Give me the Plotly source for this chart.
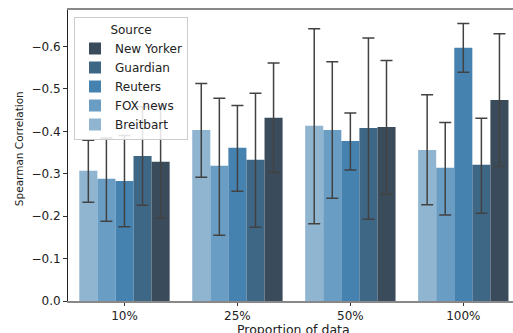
import plotly.graph_objects as go

categories = ["10%", "25%", "50%", "100%"]
sources = ["Breitbart", "FOX news", "Reuters", "Guardian", "New Yorker"]
colors = ["#8fb5d1", "#6a9dc3", "#4682b0", "#3e6786", "#3a4c5b"]

# mean Spearman correlation per source (rows) and data proportion (columns)
values = {
    "Breitbart":  [-0.307, -0.403, -0.413, -0.356],
    "FOX news":   [-0.288, -0.319, -0.403, -0.314],
    "Reuters":    [-0.283, -0.361, -0.377, -0.597],
    "Guardian":   [-0.342, -0.333, -0.408, -0.321],
    "New Yorker": [-0.328, -0.432, -0.410, -0.474],
}
# confidence interval ends: most negative end (top) and least negative end (bottom)
ci_top = {
    "Breitbart":  [-0.379, -0.513, -0.642, -0.486],
    "FOX news":   [-0.384, -0.478, -0.564, -0.421],
    "Reuters":    [-0.390, -0.461, -0.443, -0.654],
    "Guardian":   [-0.458, -0.490, -0.620, -0.431],
    "New Yorker": [-0.460, -0.561, -0.567, -0.630],
}
ci_bottom = {
    "Breitbart":  [-0.233, -0.292, -0.182, -0.227],
    "FOX news":   [-0.188, -0.155, -0.242, -0.203],
    "Reuters":    [-0.175, -0.259, -0.309, -0.539],
    "Guardian":   [-0.226, -0.174, -0.193, -0.207],
    "New Yorker": [-0.196, -0.303, -0.252, -0.317],
}

fig = go.Figure()
for src, col in zip(sources, colors):
    v = values[src]
    fig.add_trace(go.Bar(
        name=src,
        x=list(range(len(categories))),
        y=v,
        marker=dict(color=col, line=dict(width=0)),
        error_y=dict(
            type="data", symmetric=False,
            array=[b - m for b, m in zip(ci_bottom[src], v)],
            arrayminus=[m - t for t, m in zip(ci_top[src], v)],
            color="#424242", thickness=1.5, width=6,
        ),
    ))

font = dict(family="DejaVu Sans", size=12, color="#222")
fig.update_layout(
    width=513, height=333,
    margin=dict(l=68, r=0, t=10, b=32),
    plot_bgcolor="white", paper_bgcolor="white",
    barmode="group", bargap=0.2, bargroupgap=0,
    font=font,
    showlegend=True,
    legend=dict(
        title=dict(text="Source", side="top center", font=dict(family="DejaVu Sans", size=12, color="#222")),
        traceorder="reversed",
        x=0.0135, y=0.975, xanchor="left", yanchor="top",
        bgcolor="rgba(255,255,255,0.85)", bordercolor="#cccccc", borderwidth=1,
        font=dict(family="DejaVu Sans", size=12, color="#222"),
        tracegroupgap=0, itemwidth=30,
    ),
    xaxis=dict(
        range=[-0.5, 3.44], tickmode="array",
        tickvals=list(range(len(categories))), ticktext=categories,
        showgrid=False, zeroline=False,
        showline=True, linecolor="#888", linewidth=1.5, mirror=True,
        ticks="outside", ticklen=3, tickcolor="#333",
        tickfont=font,
    ),
    yaxis=dict(
        range=[0, -0.686], tickvals=[0, -0.1, -0.2, -0.3, -0.4, -0.5, -0.6],
        tickformat=".1f",
        showgrid=False, zeroline=False,
        showline=True, linecolor="#222", linewidth=1,
        ticks="outside", ticklen=4, tickcolor="#333",
        tickfont=font,
    ),
    annotations=[
        dict(text="Proportion of data", xref="x", yref="paper", x=1.5, y=-0.0, yshift=-28.5,
             xanchor="center", yanchor="middle", showarrow=False,
             font=dict(family="DejaVu Sans", size=12.5, color="#222")),
        dict(text="Spearman Correlation", xref="paper", yref="paper", x=-0.110, y=0.522,
             xanchor="center", yanchor="middle", textangle=-90, showarrow=False,
             font=dict(family="DejaVu Sans", size=10.5, color="#222")),
    ],
)

fig.write_html(
    "out.html",
    config={"displayModeBar": False},
    post_script="document.body.style.margin='0';document.body.style.overflow='hidden';",
)
